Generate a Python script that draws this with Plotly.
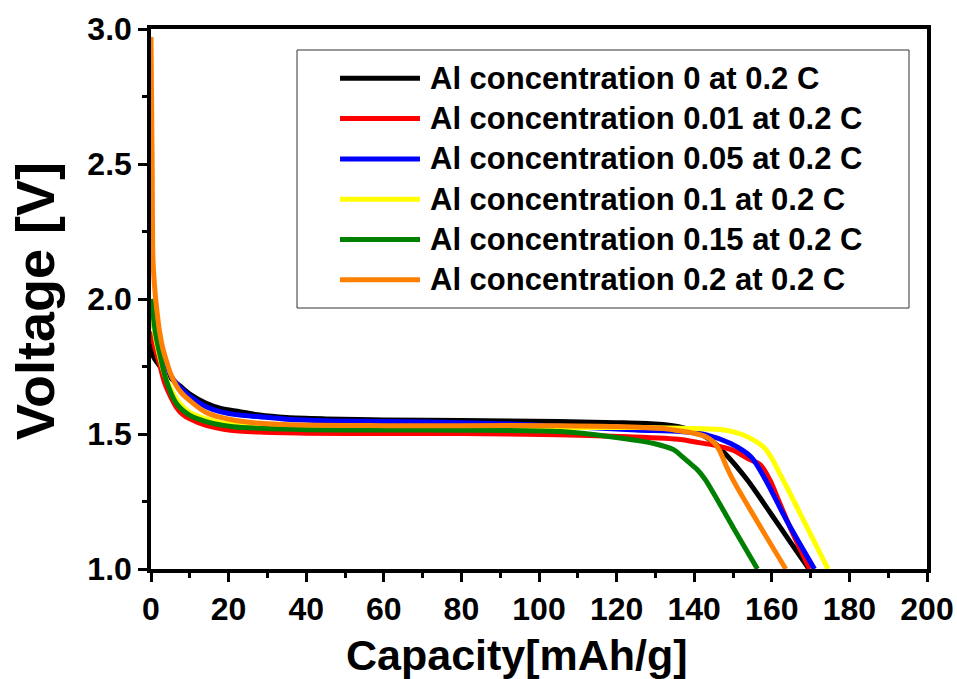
import plotly.graph_objects as go

# ---------------- data ----------------
series_names = [
    "Al concentration 0 at 0.2 C",
    "Al concentration 0.01 at 0.2 C",
    "Al concentration 0.05 at 0.2 C",
    "Al concentration 0.1 at 0.2 C",
    "Al concentration 0.15 at 0.2 C",
    "Al concentration 0.2 at 0.2 C",
]
series_colors = ["#000000", "#FF0000", "#0000FF", "#FFFF00", "#008000", "#FF8000"]

cap_0 = [0, 0.5, 2, 3.5, 5.6, 8, 10, 14.2, 18, 22.9, 28, 35, 45, 60, 80, 105, 120, 130, 136, 140, 144, 147.8, 153.7, 160, 165, 169.6]
v_0 = [1.84, 1.79, 1.756, 1.73, 1.70, 1.672, 1.648, 1.614, 1.595, 1.583, 1.570, 1.561, 1.556, 1.552, 1.550, 1.546, 1.542, 1.537, 1.527, 1.51, 1.48, 1.43, 1.33, 1.20, 1.095, 1.0]

cap_001 = [0, 1, 2, 3.5, 5, 6.5, 8, 10, 14.2, 20, 28, 40, 60, 80, 105, 122.8, 136.5, 140, 145.1, 150, 153.7, 157.1, 159.5, 162, 165, 169.8]
v_001 = [1.88, 1.82, 1.77, 1.69, 1.64, 1.60, 1.575, 1.556, 1.532, 1.515, 1.507, 1.503, 1.502, 1.502, 1.497, 1.490, 1.480, 1.471, 1.459, 1.44, 1.41, 1.385, 1.33, 1.245, 1.145, 1.0]

cap_005 = [0, 0.3, 1, 2, 3.5, 5.6, 8, 10, 14.2, 18, 22.9, 28, 35, 45, 60, 80, 105, 125, 136.5, 143.4, 149.4, 154.6, 158.4, 164, 171]
v_005 = [2.0, 1.95, 1.88, 1.82, 1.765, 1.705, 1.665, 1.64, 1.601, 1.582, 1.570, 1.564, 1.555, 1.549, 1.546, 1.542, 1.530, 1.515, 1.509, 1.496, 1.465, 1.416, 1.33, 1.175, 1.0]

cap_01 = [0, 0.5, 1, 2, 3.5, 5, 6.5, 8.3, 10, 14.2, 21, 28, 40, 60, 80, 105, 125, 136.5, 147.8, 152, 155, 158, 160, 162, 164, 174.5]
v_01 = [2.0, 1.93, 1.87, 1.80, 1.72, 1.67, 1.63, 1.60, 1.58, 1.556, 1.535, 1.528, 1.525, 1.524, 1.524, 1.524, 1.524, 1.521, 1.515, 1.50, 1.48, 1.45, 1.41, 1.355, 1.30, 1.0]

cap_015 = [0, 0.5, 1.2, 2.2, 3.9, 6.5, 9.9, 14.2, 21.1, 28, 40, 60, 80, 105.5, 118.4, 129.6, 134.8, 137, 139, 141, 142.9, 150, 156.3]
v_015 = [2.0, 1.947, 1.87, 1.80, 1.70, 1.614, 1.57, 1.546, 1.527, 1.521, 1.516, 1.515, 1.514, 1.509, 1.49, 1.465, 1.441, 1.415, 1.39, 1.365, 1.33, 1.155, 1.0]

cap_02 = [0, 0.3, 0.5, 0.9, 1.5, 2.2, 3, 3.9, 5, 6.5, 8, 9.9, 14.2, 21.1, 28, 40, 60, 80, 105, 120, 131.4, 136.5, 140, 143, 145, 146.5, 148, 150, 163.6]
v_02 = [2.97, 2.5, 2.15, 2.05, 1.96, 1.88, 1.82, 1.774, 1.725, 1.68, 1.65, 1.625, 1.58, 1.552, 1.540, 1.533, 1.531, 1.531, 1.531, 1.528, 1.521, 1.511, 1.503, 1.49, 1.47, 1.44, 1.39, 1.33, 1.0]

caps = [cap_0, cap_001, cap_005, cap_01, cap_015, cap_02]
volts = [v_0, v_001, v_005, v_01, v_015, v_02]

x_ticks = [0, 20, 40, 60, 80, 100, 120, 140, 160, 180, 200]
y_ticks = [1.0, 1.5, 2.0, 2.5, 3.0]
y_tick_labels = ["1.0", "1.5", "2.0", "2.5", "3.0"]
x_title = "Capacity[mAh/g]"
y_title = "Voltage [V]"

# ---------------- figure ----------------
FONT = "Liberation Sans, Arial, sans-serif"
W, H = 957, 679
ML, MR, MT, MB = 151, 30, 29, 110
PW, PH = W - ML - MR, H - MT - MB

fig = go.Figure()
for xs, ys, name, col in zip(caps, volts, series_names, series_colors):
    fig.add_trace(go.Scatter(
        x=xs, y=ys, name=name, mode="lines",
        line=dict(color=col, width=5, shape="spline", smoothing=0.85),
        showlegend=False,
    ))

axis_common = dict(
    showline=True, linecolor="black", linewidth=3.5, mirror=True,
    ticks="outside", ticklen=9, tickwidth=3, tickcolor="black",
    showgrid=False, zeroline=False, automargin=False,
    tickfont=dict(family=FONT, size=32, color="black", weight="bold"),
)

fig.update_xaxes(
    range=[0, 200], tickvals=x_ticks,
    minor=dict(ticks="outside", ticklen=5, tickwidth=3, tickcolor="black", dtick=10, showgrid=False),
    **axis_common,
)
fig.update_yaxes(
    range=[1.0, 3.0], tickvals=y_ticks, ticktext=y_tick_labels,
    minor=dict(ticks="outside", ticklen=5, tickwidth=3, tickcolor="black", dtick=0.25, showgrid=False),
    **axis_common,
)

# pixel -> paper helpers
def px_x(p):
    return (p - ML) / PW

def px_y(p):
    return (H - MB - p) / PH

shapes = [dict(type="rect", xref="paper", yref="paper",
               x0=px_x(297), x1=px_x(909), y0=px_y(308), y1=px_y(50),
               line=dict(color="#333333", width=1), fillcolor="white", layer="above")]
annotations = []
for i, (name, col) in enumerate(zip(series_names, series_colors)):
    yc = 78.3 + 40.3 * i
    shapes.append(dict(type="line", xref="paper", yref="paper",
                       x0=px_x(340), x1=px_x(420), y0=px_y(yc), y1=px_y(yc),
                       line=dict(color=col, width=5), layer="above"))
    annotations.append(dict(xref="paper", yref="paper", x=px_x(428), y=px_y(yc),
                            xanchor="left", yanchor="middle", showarrow=False,
                            text=name, font=dict(family=FONT, size=31, color="black", weight="bold")))

# axis titles
annotations.append(dict(xref="paper", yref="paper", x=px_x(517), y=px_y(655),
                        xanchor="center", yanchor="middle", showarrow=False,
                        text=x_title, font=dict(family=FONT, size=43, color="black", weight="bold")))
annotations.append(dict(xref="paper", yref="paper", x=px_x(35), y=px_y(301),
                        xanchor="center", yanchor="middle", showarrow=False, textangle=-90,
                        text=y_title, font=dict(family=FONT, size=54, color="black", weight="bold")))

fig.update_layout(
    width=W, height=H,
    margin=dict(l=ML, r=MR, t=MT, b=MB, autoexpand=False),
    paper_bgcolor="white", plot_bgcolor="white",
    shapes=shapes, annotations=annotations,
    showlegend=False,
)

fig.write_html("out.html")
